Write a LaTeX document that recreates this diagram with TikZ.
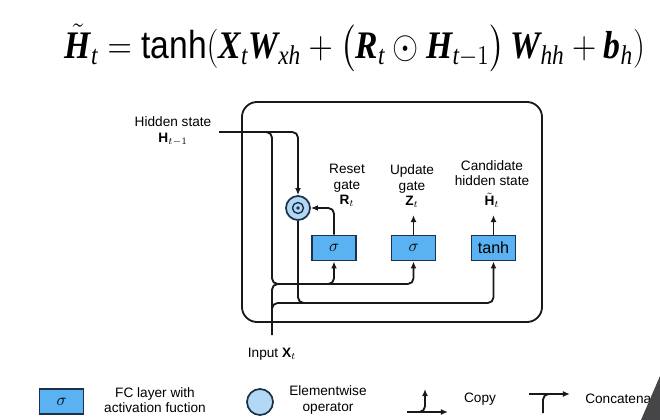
\documentclass[tikz,border=0pt]{standalone}
\usepackage{amsmath}
\usepackage{graphicx}
\usepackage{fontspec}
\setmainfont{Liberation Sans}
\newfontfamily\eqfont{Liberation Serif}
\newcommand{\bv}[1]{\text{\eqfont\bfseries\itshape #1}}
\newcommand{\iv}[1]{\text{\eqfont\itshape #1}}
\usetikzlibrary{arrows.meta, positioning, calc}
\definecolor{gateC} {RGB}{ 90, 178, 242}
\definecolor{opC}   {RGB}{178, 216, 246}
\definecolor{edgeC} {RGB}{ 28,  48,  72}
\definecolor{wireC} {RGB}{ 25,  25,  25}
\definecolor{shadeC}{RGB}{ 70,  70,  72}
\tikzset{
  gate/.style    = {rectangle, draw=edgeC, fill=gateC, line width=1.2pt,
                    minimum width=1.1cm, minimum height=0.63cm, inner sep=0pt,
                    font=\fontsize{11.5}{13}\selectfont},
  elem/.style    = {circle, draw=edgeC, fill=opC, line width=1.2pt,
                    minimum size=0.6cm, inner sep=0pt},
  cellbox/.style = {rectangle, rounded corners=0.38cm, draw=wireC, line width=1.3pt,
                    minimum width=7.5cm, minimum height=5.5cm},
  wire/.style    = {draw=wireC, line width=1.3pt, rounded corners=4pt},
  arr/.style     = {wire, -{Latex[length=5pt,width=4.2pt]}},
  lbl/.style     = {font=\fontsize{9.7}{11}\selectfont, align=center, inner sep=0pt},
}

\begin{document}
\begin{tikzpicture}[x=0.025cm, y=-0.025cm]
\useasboundingbox (0,0) rectangle (660,420);

% ---- Equation ---------------------------------------------------------------
\node[inner sep=0pt] (eq) at (355,48)
  {\resizebox*{14.5cm}{1.2cm}{\huge$\tilde{\bv{H}}_{\iv{t}} = \text{tanh}(\bv{X}_{\iv{t}}\bv{W}_{\iv{xh}}
    + \bigl(\bv{R}_{\iv{t}} \odot \bv{H}_{\iv{t}-1}\bigr)\,\bv{W}_{\iv{hh}}
    + \bv{b}_{\iv{h}})$}};

% ---- Cell and gates ---------------------------------------------------------
\node[cellbox] (cell) at (392,212) {};

\node[gate] (reset) at (334,248) {$\sigma$};
\node[gate] (upd)   at (413.5,248) {$\sigma$};
\node[gate] (cand)  at (493.5,248) {tanh};
\node[elem] (odot)  at (298,208)   {};
\draw[edgeC, line width=1pt] (odot) circle[radius=3.9pt];
\fill[edgeC] (odot) circle[radius=1.4pt];

% ---- Labels -----------------------------------------------------------------
\node[lbl, anchor=south] (rlbl) at (347,207) {Reset\\gate\\$\mathbf{R}_t$};
\node[lbl, anchor=south] (zlbl) at (412,208) {Update\\gate\\$\mathbf{Z}_t$};
\node[lbl, anchor=south] (hlbl) at (492,208) {Candidate\\hidden state\\[3pt]$\tilde{\mathbf{H}}_t$};
\node[lbl] (hidlbl) at (173,131) {Hidden state\\$\mathbf{H}_{t-1}$};
\node[lbl] (xlbl)   at (272,354) {Input $\mathbf{X}_t$};

% ---- Junctions --------------------------------------------------------------
\coordinate (hin)    at (219,132);
\coordinate (hsplit) at (272,132);
\coordinate (xin)    at (272,335);
\coordinate (cat1)   at (272,284);
\coordinate (cat2)   at (272,303);

% ---- Wires ------------------------------------------------------------------
\draw[arr] (hin) -| (odot.north);
\draw[arr] ($(hsplit)+(-12,0)$) -- (hsplit) -- (cat1) -| (upd.south);
\draw[wire] (xin) -- (cat1) -- ++(14,0);
\draw[arr] ($(reset.south |- cat1)+(-14,0)$) -| (reset.south);
\draw[arr] ($(cat2)+(0,12)$) -- (cat2) -| (cand.south);
\draw[wire] (odot.south) -- (odot.south |- cat2) -- ++(14,0);
\draw[arr] (reset.north) |- (odot.east);
\draw[arr, shorten >=5pt] (upd.north)  -- (upd.north |- zlbl.south);
\draw[arr, shorten >=5pt] (cand.north) -- (cand.north |- hlbl.south);

% ---- Legend -----------------------------------------------------------------
\node[gate] (lgate) at (61.5,401.5) {$\sigma$};
\node[lbl]  (lgatetxt) at (155,400) {FC layer with\\activation fuction};
\node[elem, minimum size=0.65cm] (lelem) at (260,402) {};
\node[lbl]  (lelemtxt) at (328,400) {Elementwise\\operator};

\coordinate (cpyL) at (407,412);
\coordinate (cpyR) at (448,412);
\coordinate (cpyB) at (416,412);
\coordinate (cpyT) at (425,389);
\draw[arr] (cpyL) -- (cpyR);
\draw[arr] (cpyB) -| (cpyT);
\node[lbl] (cpytxt) at (480,399) {Copy};

\coordinate (catL) at (529,394);
\coordinate (catR) at (570,394);
\coordinate (catB) at (543,413);
\coordinate (catM) at (556,394);
\draw[arr] (catL) -- (catR);
\draw[wire] (catB) |- (catM);
\node[lbl, anchor=west] (cattxt) at (585,399) {Concatenation};

\fill[shadeC] (641,420) -- (660,376) -- (660,420) -- cycle;

\end{tikzpicture}
\end{document}
